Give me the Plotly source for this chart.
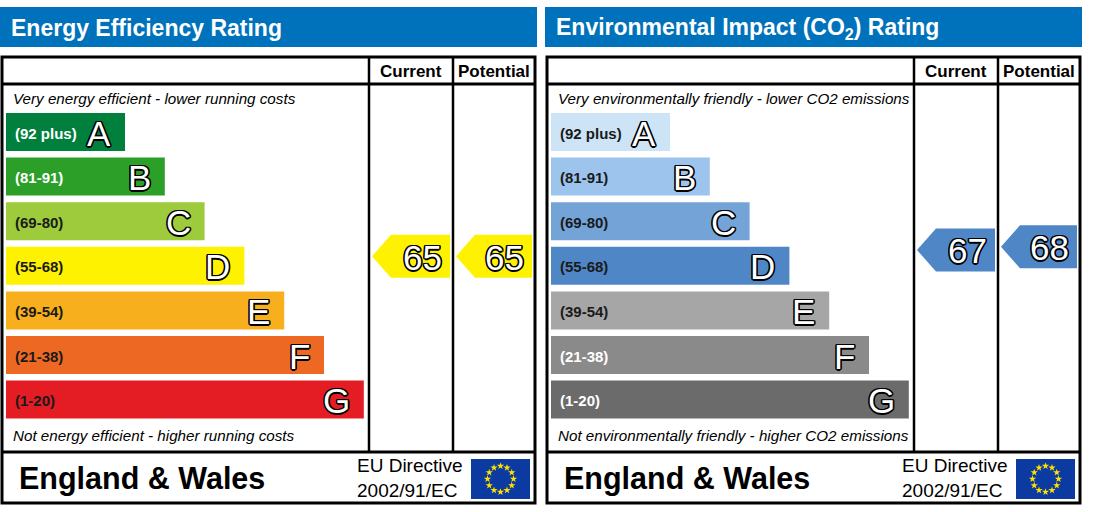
import plotly.graph_objects as go
import math

# ---------------- data ----------------
bands = ["A", "B", "C", "D", "E", "F", "G"]
range_labels = ["(92 plus)", "(81-91)", "(69-80)", "(55-68)", "(39-54)", "(21-38)", "(1-20)"]
band_lo = [92, 81, 69, 55, 39, 21, 1]
band_hi = [100, 91, 80, 68, 54, 38, 20]

eer_colors = ["#007f3d", "#2c9f29", "#9dcb3c", "#fff200", "#f7af1d", "#ed6823", "#e31d23"]
eer_label_colors = ["#ffffff", "#ffffff", "#1a1a1a", "#1a1a1a", "#1a1a1a", "#1a1a1a", "#1a1a1a"]
eir_colors = ["#cde3f6", "#9cc4ec", "#74a4d7", "#4f86c6", "#a6a6a6", "#8a8a8a", "#6b6b6b"]
eir_label_colors = ["#1a1a1a", "#1a1a1a", "#1a1a1a", "#1a1a1a", "#1a1a1a", "#ffffff", "#ffffff"]

eer_current, eer_potential = 65, 65
eir_current, eir_potential = 67, 68

panels = [
    dict(title="Energy Efficiency Rating",
         top_text="Very energy efficient - lower running costs",
         bottom_text="Not energy efficient - higher running costs",
         colors=eer_colors, label_colors=eer_label_colors,
         current=eer_current, potential=eer_potential),
    dict(title="Environmental Impact (CO<sub>2</sub>) Rating",
         top_text="Very environmentally friendly - lower CO2 emissions",
         bottom_text="Not environmentally friendly - higher CO2 emissions",
         colors=eir_colors, label_colors=eir_label_colors,
         current=eir_current, potential=eir_potential),
]
column_titles = ["Current", "Potential"]
footer_region = "England & Wales"
footer_directive = ["EU Directive", "2002/91/EC"]

# ---------------- layout constants (pixels) ----------------
W, H = 1096, 512
PANEL_OFFSETS = [0, 545]
BOX_L, BOX_R, BOX_T, BOX_B = 2, 535, 57, 503
HEAD_ROW_B = 84
FOOT_T = 452
COL_X = [369, 453]
HDR_L, HDR_R, HDR_T, HDR_B = 0, 537, 7, 47
BAR_X0, BAR_LEN0, BAR_STEP = 6, 119, 39.8
BAR_TOP0, PITCH, BAR_H = 113, 44.6, 38
ARROW_H = 43
PAD = 3  # annotation inner padding compensation
FONT = "Liberation Sans, Arial, sans-serif"
OUTLINE = ("1.2px 1.2px 0 #000, -1.2px -1.2px 0 #000, 1.2px -1.2px 0 #000, -1.2px 1.2px 0 #000, "
           "0 1.5px 0 #000, 0 -1.5px 0 #000, 1.5px 0 0 #000, -1.5px 0 0 #000")


def band_index(v):
    for i, (lo, hi) in enumerate(zip(band_lo, band_hi)):
        if lo <= v <= hi:
            return i
    return 0 if v > band_hi[0] else len(bands) - 1


def value_y(v):
    i = band_index(v)
    top = BAR_TOP0 + i * PITCH
    frac = (band_hi[i] - v) / (band_hi[i] - band_lo[i] + 1)
    return top + frac * PITCH


fig = go.Figure()
shapes = []
annotations = []

for p, off in zip(panels, PANEL_OFFSETS):
    # header
    shapes.append(dict(type="rect", xref="x", yref="y", x0=HDR_L + off, x1=HDR_R + off,
                       y0=HDR_T, y1=HDR_B, fillcolor="#0072bb", line=dict(width=0), layer="below"))
    annotations.append(dict(x=12 - PAD + off, y=(HDR_T + HDR_B) / 2 + 1, text=p["title"], xanchor="left",
                            yanchor="middle", showarrow=False,
                            font=dict(family=FONT, size=23, color="white", weight="bold")))
    # frame
    shapes.append(dict(type="rect", xref="x", yref="y", x0=BOX_L + off, x1=BOX_R + off,
                       y0=BOX_T, y1=BOX_B, line=dict(color="black", width=3)))
    for yy in (HEAD_ROW_B, FOOT_T):
        shapes.append(dict(type="line", xref="x", yref="y", x0=BOX_L + off, x1=BOX_R + off,
                           y0=yy, y1=yy, line=dict(color="black", width=3)))
    for cx in COL_X:
        shapes.append(dict(type="line", xref="x", yref="y", x0=cx + off, x1=cx + off,
                           y0=BOX_T, y1=FOOT_T, line=dict(color="black", width=2.5)))
    col_edges = [COL_X[0], COL_X[1], BOX_R]
    for k, t in enumerate(column_titles):
        annotations.append(dict(x=(col_edges[k] + col_edges[k + 1]) / 2 + off, y=(BOX_T + HEAD_ROW_B) / 2 + 1,
                                text=t, showarrow=False, xanchor="center", yanchor="middle",
                                font=dict(family=FONT, size=17, color="black", weight="bold")))
    annotations.append(dict(x=14 - PAD + off, y=98, text=p["top_text"], xanchor="left", yanchor="middle",
                            showarrow=False, font=dict(family=FONT, size=15.2, color="black", style="italic")))
    annotations.append(dict(x=14 - PAD + off, y=435, text=p["bottom_text"], xanchor="left", yanchor="middle",
                            showarrow=False, font=dict(family=FONT, size=15.2, color="black", style="italic")))

    # bars
    lengths = [BAR_LEN0 + i * BAR_STEP for i in range(len(bands))]
    centers = [BAR_TOP0 + BAR_H / 2 + i * PITCH for i in range(len(bands))]
    fig.add_trace(go.Bar(orientation="h", x=lengths, y=centers, base=[BAR_X0 + off] * len(bands),
                         width=BAR_H, marker=dict(color=p["colors"], line=dict(width=0)),
                         hoverinfo="skip", showlegend=False))
    for i, b in enumerate(bands):
        annotations.append(dict(x=BAR_X0 + off + 10 - PAD, y=centers[i] + 1, text=range_labels[i],
                                xanchor="left", yanchor="middle", showarrow=False,
                                font=dict(family=FONT, size=15, color=p["label_colors"][i], weight="bold")))
        annotations.append(dict(x=BAR_X0 + off + lengths[i] - 12, y=centers[i] + 1, text=b,
                                xanchor="right", yanchor="middle", showarrow=False,
                                font=dict(family=FONT, size=35, color="white", shadow=OUTLINE)))

    # arrows
    for k, v in enumerate([p["current"], p["potential"]]):
        cy = value_y(v)
        tip = col_edges[k] + 3 + off
        end = col_edges[k + 1] - 3 + off
        xs = [tip, tip + 19, end, end, tip + 19, tip]
        ys = [cy, cy - ARROW_H / 2, cy - ARROW_H / 2, cy + ARROW_H / 2, cy + ARROW_H / 2, cy]
        fig.add_trace(go.Scatter(x=xs, y=ys, mode="lines", fill="toself",
                                 fillcolor=p["colors"][band_index(v)], line=dict(width=0),
                                 hoverinfo="skip", showlegend=False))
        annotations.append(dict(x=end - 6, y=cy + 1, text=str(v), xanchor="right", yanchor="middle",
                                showarrow=False,
                                font=dict(family=FONT, size=35, color="white", shadow=OUTLINE)))

    # footer
    annotations.append(dict(x=20 - PAD + off, y=478, text=footer_region, xanchor="left", yanchor="middle",
                            showarrow=False, font=dict(family=FONT, size=30.5, color="black", weight="bold")))
    annotations.append(dict(x=358 - PAD + off, y=465, text=footer_directive[0], xanchor="left", yanchor="middle",
                            showarrow=False, font=dict(family=FONT, size=19, color="black")))
    annotations.append(dict(x=358 - PAD + off, y=490, text=footer_directive[1], xanchor="left", yanchor="middle",
                            showarrow=False, font=dict(family=FONT, size=19, color="black")))
    # EU flag
    fx0, fx1, fy0, fy1 = 471 + off, 530 + off, 459, 499
    shapes.append(dict(type="rect", xref="x", yref="y", x0=fx0, x1=fx1, y0=fy0, y1=fy1,
                       fillcolor="#0b3aa0", line=dict(width=0), layer="below"))
    fcx, fcy, r = (fx0 + fx1) / 2, (fy0 + fy1) / 2, 13
    sx = [fcx + r * math.cos(2 * math.pi * j / 12) for j in range(12)]
    sy = [fcy + r * math.sin(2 * math.pi * j / 12) for j in range(12)]
    fig.add_trace(go.Scatter(x=sx, y=sy, mode="markers",
                             marker=dict(symbol="star", size=5.5, color="#ffe000", line=dict(width=0)),
                             hoverinfo="skip", showlegend=False))

fig.update_layout(
    width=W, height=H, margin=dict(l=0, r=0, t=0, b=0),
    paper_bgcolor="white", plot_bgcolor="white",
    xaxis=dict(range=[0, W], visible=False, fixedrange=True),
    yaxis=dict(range=[H, 0], visible=False, fixedrange=True),
    shapes=shapes, annotations=annotations, barmode="overlay", showlegend=False,
)
fig.write_html("out.html", config={"displayModeBar": False},
               post_script="document.body.style.margin='0';document.body.style.overflow='hidden';")
